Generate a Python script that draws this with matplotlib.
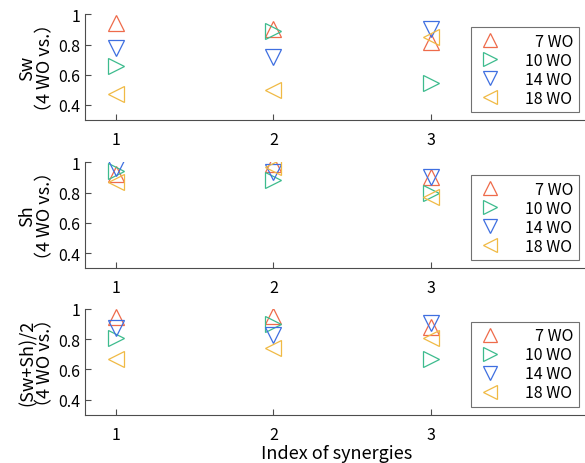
import matplotlib
matplotlib.use("Agg")
import matplotlib.pyplot as plt

plt.rcParams["font.family"] = ["Noto Sans CJK JP", "DejaVu Sans"]

synergy = [1, 2, 3]
series = ["\u20077 WO", "10 WO", "14 WO", "18 WO"]
markers = ["^", ">", "v", "<"]
colors = ["#ee6b4b", "#3dbb8e", "#3f6fe0", "#f0ba45"]

sw = [
    [0.945, 0.90, 0.82],
    [0.66, 0.89, 0.545],
    [0.775, 0.715, 0.90],
    [0.475, 0.50, 0.853],
]
sh = [
    [0.926, 0.99, 0.90],
    [0.944, 0.88, 0.795],
    [0.96, 0.937, 0.90],
    [0.87, 0.97, 0.77],
]
avg = [
    [0.945, 0.956, 0.88],
    [0.805, 0.90, 0.67],
    [0.874, 0.825, 0.905],
    [0.67, 0.74, 0.81],
]
panels = [(sw, "Sw"), (sh, "Sh"), (avg, "(Sw+Sh)/2")]
yticks = [0.4, 0.6, 0.8, 1.0]
ytick_labels = ["0.4", "0.6", "0.8", "1"]

fig = plt.figure(figsize=(5.85, 4.64), dpi=100)
bottoms = [0.739, 0.420, 0.104]
for (data, name), b in zip(panels, bottoms):
    ax = fig.add_axes([0.145, b, 0.86, 0.228])
    for vals, lab, m, c in zip(data, series, markers, colors):
        ax.plot(synergy, vals, ls="none", marker=m, ms=11, mfc="none",
                mec=c, mew=0.9, label=lab)
    ax.set_xlim(0.8, 4.0)
    ax.set_ylim(0.3, 1.0)
    ax.set_xticks(synergy)
    ax.set_yticks(yticks)
    ax.set_yticklabels(ytick_labels)
    ax.tick_params(direction="in", length=4, labelsize=11.5, color="0.3")
    ax.tick_params(axis="x", pad=8)
    for s in ("top", "right"):
        ax.spines[s].set_visible(False)
    for s in ("left", "bottom"):
        ax.spines[s].set_color("0.3")
    ax.set_ylabel(name + "\n\uff084 WO vs.\uff09", fontsize=13, labelpad=3,
                  linespacing=0.95)
    leg = ax.legend(loc="lower right", bbox_to_anchor=(0.982, 0.075),
                    borderaxespad=0, fontsize=11.5, frameon=True,
                    fancybox=False, edgecolor="0.3", labelspacing=0.12,
                    markerscale=0.9, handletextpad=1.4, borderpad=0.35,
                    handlelength=1.6)
    leg.get_frame().set_linewidth(0.8)

ax.set_xlabel("Index of synergies", fontsize=13, labelpad=1)
fig.savefig("out.png", dpi=100)
